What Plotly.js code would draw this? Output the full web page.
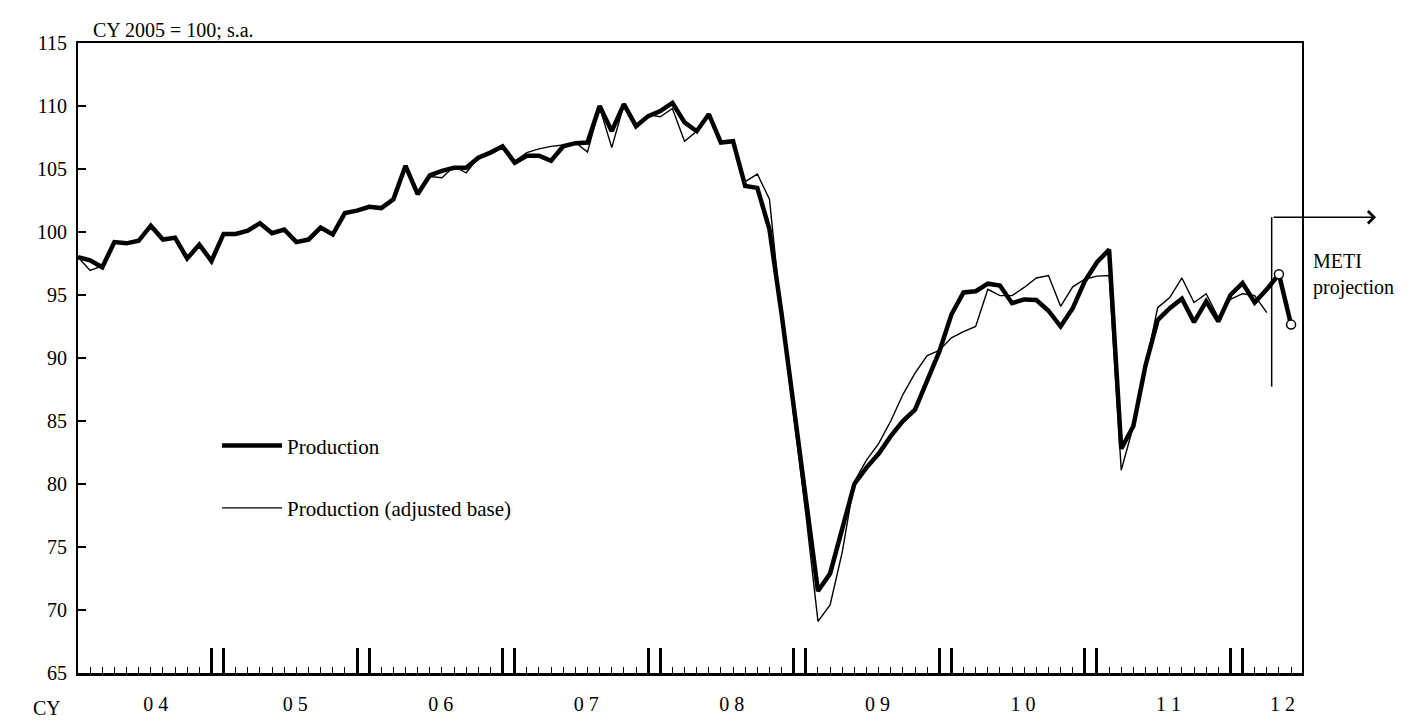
<!DOCTYPE html>
<html><head><meta charset="utf-8">
<script src="https://cdn.plot.ly/plotly-3.0.1.min.js"></script>
<style>html,body{margin:0;padding:0;background:#fff}</style>
</head><body>
<div id="chart" style="width:1413px;height:722px"></div>
<script>
// Monthly index, Jan 2004 = month 0 ... May 2012 = month 100 (CY 2005 = 100; s.a.)
const production = [
  98.0, 97.75, 97.2, 99.2, 99.1, 99.3, 100.5, 99.4, 99.55, 97.9, 99.0, 97.7,
  99.85, 99.85, 100.1, 100.7, 99.9, 100.2, 99.2, 99.4, 100.35, 99.8, 101.5, 101.7,
  102.0, 101.9, 102.6, 105.25, 103.0, 104.5, 104.85, 105.1, 105.1, 105.9, 106.3, 106.8,
  105.5, 106.05, 106.05, 105.65, 106.8, 107.05, 107.1, 110.0, 108.0, 110.15, 108.4, 109.2,
  109.6, 110.25, 108.7, 108.0, 109.35, 107.1, 107.2, 103.65, 103.5, 100.2, 93.5, 86.3,
  79.1, 71.5, 72.9, 76.4, 80.0, 81.3, 82.4, 83.8, 85.0, 85.9, 88.1, 90.5,
  93.45, 95.2, 95.3, 95.9, 95.75, 94.35, 94.65, 94.6, 93.75, 92.5, 93.95, 96.1,
  97.6, 98.6, 82.8, 84.6, 89.4, 93.0, 93.95, 94.7, 92.85, 94.5, 92.9, 95.0,
  95.95, 94.4, 95.45, 96.65, 92.65
];
const productionAdjusted = [
  98.0, 96.95, 97.3, 99.2, 99.1, 99.3, 100.5, 99.4, 99.55, 97.9, 99.0, 97.7,
  99.85, 99.85, 100.1, 100.7, 99.9, 100.2, 99.2, 99.4, 100.35, 99.8, 101.5, 101.7,
  102.0, 101.9, 102.6, 105.2, 103.1, 104.4, 104.3, 105.2, 104.7, 105.9, 106.4, 106.9,
  105.6, 106.3, 106.6, 106.8, 106.9, 107.1, 106.35, 109.9, 106.7, 110.1, 108.4, 109.3,
  109.15, 109.8, 107.2, 108.0, 109.3, 107.2, 107.1, 104.0, 104.6, 102.6, 93.2, 85.6,
  77.6, 69.1, 70.4, 74.6, 80.2, 81.9, 83.2, 85.0, 87.1, 88.8, 90.2, 90.6,
  91.6, 92.1, 92.5, 95.45, 94.95, 94.95, 95.6, 96.35, 96.55, 94.1, 95.65, 96.25,
  96.5, 96.55, 81.1, 84.6, 89.4, 94.0, 94.8, 96.35, 94.4, 95.1, 93.2, 94.65,
  95.1, 94.95, 93.6
];
const projectionFirstMonth = 99;           // METI projection months (Apr, May 2012)
const projectionMarkerLine = 98.4;         // position of the projection bracket
const projectionBracket = [87.73, 101.17];

const yearBoundaryTicks = [0, 11, 12, 23, 24, 35, 36, 47, 48, 59, 60, 71, 72, 83, 84, 95, 96];
const yearLabelPos = [6.4, 17.9, 29.9, 41.9, 53.9, 65.9, 77.9, 89.9, 99.3];
const yearLabels = ['0 4', '0 5', '0 6', '0 7', '0 8', '0 9', '1 0', '1 1', '1 2'];

const months = production.map((_, i) => i);
const monthsAdj = productionAdjusted.map((_, i) => i);
const projMonths = months.slice(projectionFirstMonth);
const projVals = production.slice(projectionFirstMonth);

const F = 'Liberation Serif, Times New Roman, serif';
const xRange = [0, 100.9];

const traces = [
  {x: months, y: production, type: 'scatter', mode: 'lines', name: 'Production',
   line: {color: '#000', width: 4.5}, legendgroup: 'a'},
  {x: monthsAdj, y: productionAdjusted, type: 'scatter', mode: 'lines', name: 'Production (adjusted base)',
   line: {color: '#000', width: 1.4}, legendgroup: 'b'},
  {x: projMonths, y: projVals, type: 'scatter', mode: 'markers', showlegend: false,
   xaxis: 'x2', yaxis: 'y',
   marker: {symbol: 'circle', size: 9, color: '#fff', line: {color: '#000', width: 1.5}}}
];

const layout = {
  width: 1413, height: 722,
  margin: {l: 78, r: 111, t: 43, b: 49},
  paper_bgcolor: '#fff', plot_bgcolor: '#fff',
  font: {family: F, size: 20, color: '#000'},
  showlegend: true,
  title: {text: 'CY 2005 = 100; s.a.', xref: 'container', yref: 'container',
          x: 93 / 1413, xanchor: 'left', y: 1 - 30 / 722, yanchor: 'middle',
          font: {family: F, size: 20, color: '#000'}},
  xaxis: {range: xRange, showline: true, linewidth: 2.5, linecolor: '#000', mirror: true,
          showgrid: false, zeroline: false, tickmode: 'array', tickvals: yearBoundaryTicks,
          ticks: 'inside', ticklen: 25, tickwidth: 3, tickcolor: '#000', showticklabels: false,
          minor: {ticks: 'inside', ticklen: 6, tickwidth: 1, tickcolor: '#000', dtick: 1, tick0: 0, showgrid: false}},
  xaxis2: {range: xRange, overlaying: 'x', anchor: 'y', side: 'bottom', showline: false,
           showgrid: false, zeroline: false, tickmode: 'array', tickvals: yearLabelPos,
           ticktext: yearLabels, ticks: '', ticklabelstandoff: 17,
           tickfont: {family: F, size: 20, color: '#000'}},
  yaxis: {range: [65, 115], tick0: 65, dtick: 5, ticks: 'inside', ticklen: 8, tickwidth: 2,
          tickcolor: '#000', showline: true, linewidth: 2, linecolor: '#000', mirror: true,
          showgrid: false, zeroline: false, ticklabelstandoff: 5,
          tickfont: {family: F, size: 20, color: '#000'}},
  legend: {x: 0.1136, xanchor: 'left', y: 0.393, yanchor: 'top', bgcolor: 'rgba(0,0,0,0)',
           font: {family: F, size: 21, color: '#000'}, itemwidth: 60,
           traceorder: 'grouped', tracegroupgap: 32},
  shapes: [
    {type: 'line', xref: 'x', yref: 'y', x0: projectionMarkerLine, x1: projectionMarkerLine,
     y0: projectionBracket[0], y1: projectionBracket[1], line: {color: '#000', width: 1.5}}
  ],
  annotations: [
    {text: 'CY', xref: 'paper', yref: 'paper', x: 0, y: 0, xanchor: 'right', yanchor: 'top',
     xshift: -15, yshift: -22, showarrow: false, font: {family: F, size: 20, color: '#000'}},
    {text: 'METI<br>projection', xref: 'paper', yref: 'y', x: 1.007, y: 96.64,
     xanchor: 'left', yanchor: 'middle', align: 'left', showarrow: false,
     font: {family: F, size: 20, color: '#000'}},
    {text: '', xref: 'paper', yref: 'y', x: 1.0605, y: projectionBracket[1],
     showarrow: true, ax: -104, ay: 0, arrowhead: 4, arrowsize: 1.6, arrowwidth: 1.5,
     arrowcolor: '#000', standoff: 0, startstandoff: 0}
  ]
};

Plotly.newPlot('chart', traces, layout, {displayModeBar: false, staticPlot: true});
</script>
</body></html>
